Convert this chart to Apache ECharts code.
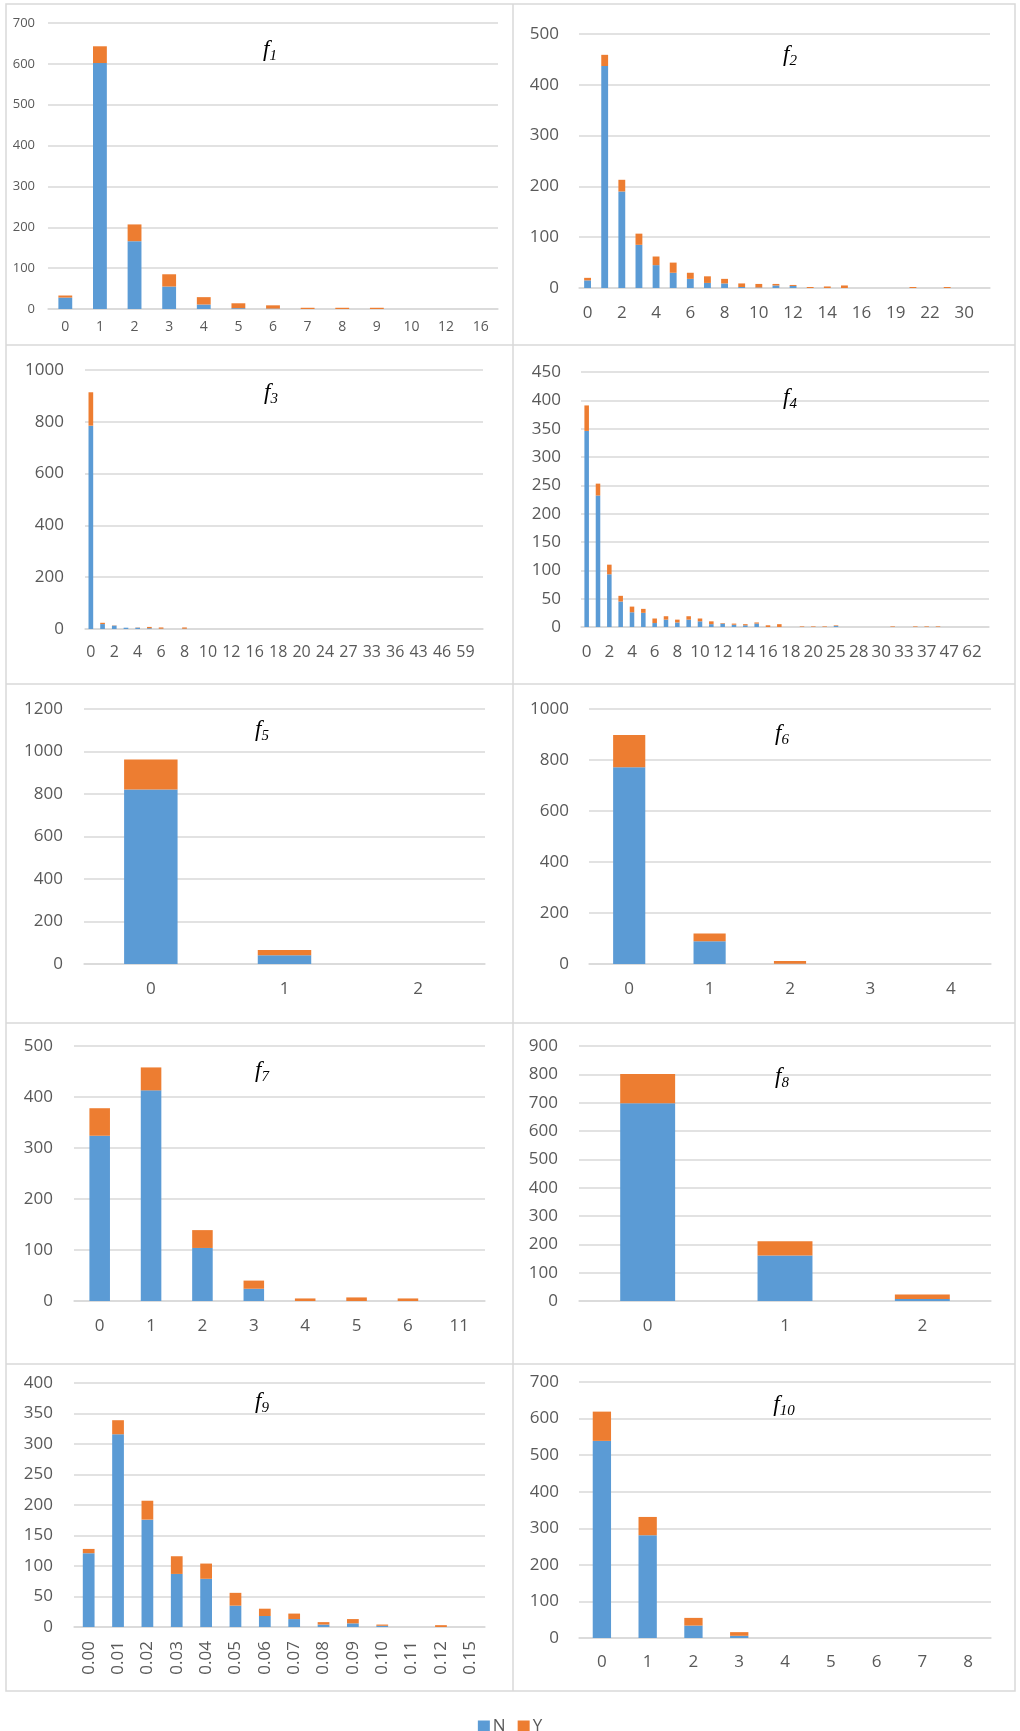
<!DOCTYPE html>
<html>
<head>
<meta charset="utf-8">
<script src="https://cdn.jsdelivr.net/npm/echarts@6/dist/echarts.min.js"></script>
<style>
  html, body { margin: 0; padding: 0; background: #fff; }
  #chart { width: 1020px; height: 1731px; }
</style>
</head>
<body>
<div id="chart"></div>
<script>
// ---- data: counts of N / Y per feature value ----
const f1Cats = ['0','1','2','3','4','5','6','7','8','9','10','12','16'];
const f1N = [28, 602, 166, 55, 11, 2, 1, 0, 0, 0, 0, 0, 0];
const f1Y = [5, 41, 41, 30, 18, 12, 8, 3, 3, 3, 0, 0, 0];

const f2Cats = ['0','1','2','3','4','5','6','7','8','9','10','11','12','13','14','15','16','17','19','20','22','25','30','33'];
const f2N = [15, 437, 190, 85, 45, 30, 18, 10, 9, 2, 1, 5, 4, 0, 0, 0, 0, 0, 0, 0, 0, 0, 0, 0];
const f2Y = [5, 22, 23, 22, 17, 20, 12, 13, 9, 7, 7, 3, 2, 2, 3, 5, 0, 0, 0, 2, 0, 2, 0, 0];

const f3Cats = ['0','1','2','3','4','5','6','7','8','9','10','11','12','14','16','17','18','19','20','22','24','25','27','30','33','35','36','40','43','45','46','50','59','71'];
const f3N = [785, 19, 13, 5, 5, 3, 1, 0, 1, 0, 0, 0, 0, 0, 0, 0, 0, 0, 0, 0, 0, 0, 0, 0, 0, 0, 0, 0, 0, 0, 0, 0, 0, 0];
const f3Y = [129, 5, 1, 0, 1, 5, 5, 0, 5, 0, 0, 0, 0, 0, 0, 0, 0, 0, 0, 0, 0, 0, 0, 0, 0, 0, 0, 0, 0, 0, 0, 0, 0, 0];

const f4Cats = ['0','1','2','3','4','5','6','7','8','9','10','11','12','13','14','15','16','17','18','19','20','22','25','27','28','29','30','32','33','35','37','40','47','55','62','83'];
const f4N = [346, 232, 93, 45, 26, 25, 7, 13, 8, 13, 10, 5, 6, 4, 3, 6, 0, 0, 0, 0, 0, 0, 2, 0, 0, 0, 0, 0, 0, 0, 0, 0, 0, 0, 0, 0];
const f4Y = [45, 21, 17, 10, 10, 7, 8, 6, 5, 6, 5, 5, 1, 2, 2, 2, 3, 5, 0, 1, 1, 1, 1, 0, 0, 0, 0, 1, 0, 1, 1, 1, 0, 0, 0, 0];

const f5Cats = ['0','1','2'];
const f5N = [821, 41, 0];
const f5Y = [141, 25, 0];

const f6Cats = ['0','1','2','3','4'];
const f6N = [772, 89, 1, 0, 0];
const f6Y = [126, 31, 11, 0, 0];

const f7Cats = ['0','1','2','3','4','5','6','11'];
const f7N = [324, 413, 104, 24, 0, 0, 0, 0];
const f7Y = [54, 45, 35, 16, 5, 7, 5, 0];

const f8Cats = ['0','1','2'];
const f8N = [698, 161, 7];
const f8Y = [103, 50, 16];

const f9Cats = ['0.00','0.01','0.02','0.03','0.04','0.05','0.06','0.07','0.08','0.09','0.10','0.11','0.12','0.15'];
const f9N = [121, 316, 176, 87, 79, 35, 18, 13, 4, 6, 2, 0, 0, 0];
const f9Y = [7, 23, 31, 29, 25, 21, 12, 9, 4, 7, 2, 0, 3, 0];

const f10Cats = ['0','1','2','3','4','5','6','7','8'];
const f10N = [539, 281, 34, 6, 0, 0, 0, 0, 0];
const f10Y = [80, 50, 21, 10, 0, 0, 0, 0, 0];

// y-axis ranges
const yMax = [700, 500, 1000, 450, 1200, 1000, 500, 900, 400, 700];
const yStep = [100, 100, 200, 50, 200, 200, 100, 100, 50, 100];

// ---- panel layout ----
const panels = [
  { cats: f1Cats,  n: f1N,  y: f1Y,  grid: [48, 23, 450, 286],  title: [270, 50],  fs: 13, fsx: 14, ym: 13, xm: 11, xi: 0 },
  { cats: f2Cats,  n: f2N,  y: f2Y,  grid: [579, 34, 411, 254], title: [790, 55],  fs: 17, fsx: 17, ym: 20, xm: 17, xi: 1 },
  { cats: f3Cats,  n: f3N,  y: f3Y,  grid: [85, 370, 398, 259], title: [271, 393], fs: 17, fsx: 16, ym: 21, xm: 15, xi: 1 },
  { cats: f4Cats,  n: f4N,  y: f4Y,  grid: [581, 372, 408, 255],title: [790, 398], fs: 17, fsx: 17, ym: 20, xm: 17, xi: 1 },
  { cats: f5Cats,  n: f5N,  y: f5Y,  grid: [84, 709, 401, 255], title: [262, 730], fs: 17, fsx: 17, ym: 21, xm: 17, xi: 0 },
  { cats: f6Cats,  n: f6N,  y: f6Y,  grid: [589, 709, 402, 255],title: [782, 734], fs: 17, fsx: 17, ym: 20, xm: 17, xi: 0 },
  { cats: f7Cats,  n: f7N,  y: f7Y,  grid: [74, 1046, 411, 255],title: [262, 1071],fs: 17, fsx: 17, ym: 21, xm: 17, xi: 0 },
  { cats: f8Cats,  n: f8N,  y: f8Y,  grid: [579, 1046, 412, 255],title: [782, 1077],fs: 17, fsx: 17, ym: 21, xm: 17, xi: 0 },
  { cats: f9Cats,  n: f9N,  y: f9Y,  grid: [74, 1383, 411, 244],title: [262, 1402],fs: 17, fsx: 17, ym: 21, xm: 14, xi: 0, rot: 90 },
  { cats: f10Cats, n: f10N, y: f10Y, grid: [579, 1382, 412, 256],title: [784, 1405],fs: 17, fsx: 17, ym: 20, xm: 16, xi: 0 }
];

const FONT = '"Open Sans", "Noto Sans", sans-serif';
const TITLE_FONT = '"Liberation Serif", serif';
const LABEL = '#595959';
const LINE = '#d9d9d9';
const BLUE = '#5B9BD5';
const ORANGE = '#ED7D31';

const grids = [], xAxes = [], yAxes = [], series = [], titles = [];

panels.forEach((p, i) => {
  grids.push({
    left: p.grid[0], top: p.grid[1], width: p.grid[2], height: p.grid[3],
    containLabel: false, outerBoundsMode: 'none'
  });
  xAxes.push({
    gridIndex: i, type: 'category', data: p.cats,
    axisTick: { show: false },
    axisLine: { lineStyle: { color: LINE, width: 1.5 } },
    axisLabel: {
      color: LABEL, fontFamily: FONT, fontSize: p.fsx, margin: p.xm,
      interval: p.xi, rotate: p.rot || 0
    }
  });
  yAxes.push({
    gridIndex: i, type: 'value', min: 0, max: yMax[i], interval: yStep[i],
    axisLine: { show: false }, axisTick: { show: false },
    splitLine: { lineStyle: { color: LINE, width: 1.5 } },
    axisLabel: {
      color: LABEL, fontFamily: FONT, fontSize: p.fs, margin: p.ym,
      formatter: v => String(v)
    }
  });
  series.push({
    name: 'N', type: 'bar', stack: 'f' + i, xAxisIndex: i, yAxisIndex: i,
    data: p.n, barWidth: '40%', itemStyle: { color: BLUE }
  });
  series.push({
    name: 'Y', type: 'bar', stack: 'f' + i, xAxisIndex: i, yAxisIndex: i,
    data: p.y, barWidth: '40%', itemStyle: { color: ORANGE }
  });
  titles.push({
    text: '{f|f}{s|' + (i + 1) + '}',
    left: p.title[0], top: p.title[1],
    textAlign: 'center', textVerticalAlign: 'middle', padding: 0,
    textStyle: {
      fontWeight: 'normal',
      rich: {
        f: { fontFamily: TITLE_FONT, fontStyle: 'italic', fontWeight: 'normal', fontSize: 23, lineHeight: 28, color: '#000' },
        s: { fontFamily: TITLE_FONT, fontStyle: 'italic', fontWeight: 'normal', fontSize: 15, lineHeight: 14, verticalAlign: 'bottom', color: '#000' }
      }
    }
  });
});

// panel frames
const frame = { stroke: LINE, lineWidth: 1.5, fill: null };
const graphics = [
  { type: 'rect', shape: { x: 6, y: 4, width: 1009, height: 1687 }, style: frame, silent: true },
  { type: 'line', shape: { x1: 513, y1: 4, x2: 513, y2: 1691 }, style: frame, silent: true }
];
[345, 684, 1023, 1364].forEach(yy => {
  graphics.push({ type: 'line', shape: { x1: 6, y1: yy, x2: 1015, y2: yy }, style: frame, silent: true });
});

const chart = echarts.init(document.getElementById('chart'), null, { renderer: 'canvas' });
chart.setOption({
  animation: false,
  backgroundColor: '#fff',
  title: titles,
  grid: grids,
  xAxis: xAxes,
  yAxis: yAxes,
  series: series,
  graphic: graphics,
  legend: {
    data: ['N', 'Y'], left: 'center', top: 1713,
    icon: 'rect', itemWidth: 12, itemHeight: 12, itemGap: 12,
    textStyle: { color: LABEL, fontFamily: FONT, fontSize: 17, padding: [0, 0, 0, -2] }
  }
});
</script>
</body>
</html>
